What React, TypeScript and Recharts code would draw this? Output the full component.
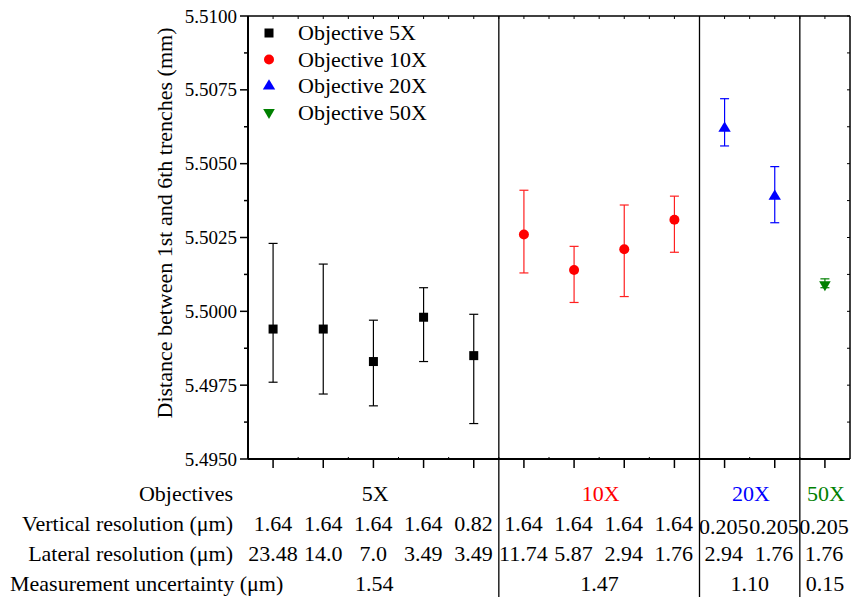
import React from 'react';
import { ScatterChart, Scatter, XAxis, YAxis, ErrorBar, ReferenceLine } from 'recharts';

const FONT = '"Liberation Serif", "Times New Roman", serif';

// measured distances (mm) with upper / lower error limits, per objective
const x5 = [1, 2, 3, 4, 5];
const y5 = [5.4994, 5.4994, 5.4983, 5.4998, 5.4985];
const hi5 = [5.5023, 5.5016, 5.4997, 5.5008, 5.4999];
const lo5 = [5.4976, 5.4972, 5.4968, 5.4983, 5.4962];

const x10 = [6, 7, 8, 9];
const y10 = [5.5026, 5.5014, 5.5021, 5.5031];
const hi10 = [5.5041, 5.5022, 5.5036, 5.5039];
const lo10 = [5.5013, 5.5003, 5.5005, 5.502];

const x20 = [10, 11];
const y20 = [5.5062, 5.5039];
const hi20 = [5.5072, 5.5049];
const lo20 = [5.5056, 5.503];

const x50 = [12];
const y50 = [5.5009];
const hi50 = [5.5011];
const lo50 = [5.5008];

// table under the plot
const objectiveNames = ['5X', '10X', '20X', '50X'];
const objectiveCenters = [3, 7.5, 10.5, 12];
const objectiveColors = ['#000000', '#ff0000', '#0000ff', '#008000'];
const vertRes = ['1.64', '1.64', '1.64', '1.64', '0.82', '1.64', '1.64', '1.64', '1.64', '0.205', '0.205', '0.205'];
const latRes = ['23.48', '14.0', '7.0', '3.49', '3.49', '11.74', '5.87', '2.94', '1.76', '2.94', '1.76', '1.76'];
const uncertainty = ['1.54', '1.47', '1.10', '0.15'];
const groupDividers = [5.5, 9.5, 11.5];

const yTicks = [5.495, 5.49625, 5.4975, 5.49875, 5.5, 5.50125, 5.5025, 5.50375, 5.505, 5.50625, 5.5075, 5.50875, 5.51];
const xHalfTicks = [1, 1.5, 2, 2.5, 3, 3.5, 4, 4.5, 5, 5.5, 6, 6.5, 7, 7.5, 8, 8.5, 9, 9.5, 10, 10.5, 11, 11.5, 12];

const toRows = (xs: number[], ys: number[], los: number[], his: number[]) =>
  xs.map((x, i) => ({ x, y: ys[i], err: [ys[i] - los[i], his[i] - ys[i]] }));

const W = 852;
const H = 597;
const PLOT_LEFT = 248;
const PLOT_RIGHT = 849;
const PLOT_TOP = 17;
const PLOT_BOTTOM = 459;
const colX = (v: number) => PLOT_LEFT + ((v - 0.5) / 12) * (PLOT_RIGHT - PLOT_LEFT);

const Square = (p: any) => <rect x={p.cx - 4.5} y={p.cy - 4.5} width={9} height={9} fill="#000" />;
const Dot = (p: any) => <circle cx={p.cx} cy={p.cy} r={5} fill="#ff0000" />;
const TriUp = (p: any) => (
  <polygon points={`${p.cx},${p.cy - 6.7} ${p.cx + 6.2},${p.cy + 3.6} ${p.cx - 6.2},${p.cy + 3.6}`} fill="#0000ff" />
);
const TriDown = (p: any) => (
  <polygon points={`${p.cx},${p.cy + 6.5} ${p.cx + 5.8},${p.cy - 3.5} ${p.cx - 5.8},${p.cy - 3.5}`} fill="#008000" />
);

const Empty = () => <g />;

const LeftTick = (props: any) => {
  const { x, y, payload } = props;
  const major = Math.round(payload.value * 10000) % 25 === 0;
  return (
    <g>
      <line x1={PLOT_LEFT} x2={PLOT_LEFT - (major ? 8 : 4)} y1={y} y2={y} stroke="#000" strokeWidth={1.5} />
      {major && (
        <text x={x} y={y} dy="0.35em" textAnchor="end" fontSize={19} fontFamily={FONT} fill="#000">
          {payload.value.toFixed(4)}
        </text>
      )}
    </g>
  );
};

const BottomTick = (props: any) => {
  const { x, payload } = props;
  const major = Number.isInteger(payload.value);
  return major ? (
    <line x1={x} x2={x} y1={PLOT_BOTTOM} y2={PLOT_BOTTOM + 9} stroke="#000" strokeWidth={1.5} />
  ) : (
    <line x1={x} x2={x} y1={PLOT_BOTTOM} y2={PLOT_BOTTOM - 2} stroke="#000" strokeWidth={1} />
  );
};

const legendItems = [
  { name: 'Objective 5X', Shape: Square },
  { name: 'Objective 10X', Shape: Dot },
  { name: 'Objective 20X', Shape: TriUp },
  { name: 'Objective 50X', Shape: TriDown },
];

const textStyle = { fontFamily: FONT, fontSize: 22, fill: '#000' };

export default function App() {
  return (
    <div style={{ position: 'absolute', left: 0, top: 0, background: '#fff', fontFamily: FONT }}>
      <ScatterChart
        width={W}
        height={H}
        margin={{ top: PLOT_TOP - 1, right: W - PLOT_RIGHT - 1, bottom: H - PLOT_BOTTOM - 1, left: PLOT_LEFT - 60 }}
      >
        <XAxis
          dataKey="x"
          type="number"
          domain={[0.5, 12.5]}
          ticks={xHalfTicks}
          interval={0}
          height={1}
          tickSize={0}
          tick={<BottomTick />}
          tickLine={false}
          axisLine={{ stroke: '#000', strokeWidth: 2 }}
          allowDataOverflow
        />
        <XAxis
          xAxisId="top"
          dataKey="x"
          orientation="top"
          type="number"
          domain={[0.5, 12.5]}
          ticks={xHalfTicks}
          interval={0}
          height={1}
          mirror
          tickSize={3}
          tick={<Empty />}
          tickLine={{ stroke: '#000' }}
          axisLine={{ stroke: '#000', strokeWidth: 1.5 }}
          allowDataOverflow
        />
        <YAxis
          dataKey="y"
          type="number"
          domain={[5.495, 5.51]}
          ticks={yTicks}
          interval={0}
          width={60}
          tickSize={8}
          tickMargin={3}
          tick={<LeftTick />}
          tickLine={false}
          axisLine={{ stroke: '#000', strokeWidth: 2 }}
          allowDataOverflow
        />
        <YAxis
          yAxisId="right"
          dataKey="y"
          orientation="right"
          type="number"
          domain={[5.495, 5.51]}
          ticks={yTicks}
          interval={0}
          width={1}
          mirror
          tickSize={3}
          tick={<Empty />}
          tickLine={{ stroke: '#000' }}
          axisLine={{ stroke: '#000', strokeWidth: 1.5 }}
          allowDataOverflow
        />

        {groupDividers.map((d) => (
          <ReferenceLine
            key={d}
            segment={[{ x: d, y: 5.51 }, { x: d, y: 5.489 }]}
            ifOverflow="visible"
            stroke="#000"
            strokeWidth={1.3}
          />
        ))}

        {/* frame axes (top / right) carry no marks of their own */}
        <Scatter
          xAxisId="top"
          yAxisId="right"
          data={toRows(x50, y50, lo50, hi50)}
          shape={Empty}
          legendType="none"
          isAnimationActive={false}
        />

        <Scatter data={toRows(x5, y5, lo5, hi5)} shape={Square} isAnimationActive={false}>
          <ErrorBar dataKey="err" direction="y" width={4.5} stroke="#000" strokeWidth={1.2} />
        </Scatter>
        <Scatter data={toRows(x10, y10, lo10, hi10)} shape={Dot} isAnimationActive={false}>
          <ErrorBar dataKey="err" direction="y" width={4.5} stroke="#ff2020" strokeWidth={1.2} />
        </Scatter>
        <Scatter data={toRows(x20, y20, lo20, hi20)} shape={TriUp} isAnimationActive={false}>
          <ErrorBar dataKey="err" direction="y" width={4.5} stroke="#0000ff" strokeWidth={1.2} />
        </Scatter>
        <Scatter data={toRows(x50, y50, lo50, hi50)} shape={TriDown} isAnimationActive={false}>
          <ErrorBar dataKey="err" direction="y" width={4.5} stroke="#008000" strokeWidth={1.2} />
        </Scatter>

        {/* y axis title */}
        <text x={172} y={223} transform="rotate(-90, 172, 223)" textAnchor="middle" style={textStyle}>
          Distance between 1st and 6th trenches (mm)
        </text>

        {/* legend */}
        {legendItems.map((item, i) => (
          <g key={item.name}>
            <item.Shape cx={269} cy={33 + i * 26.5} />
            <text x={298} y={40 + i * 26.5} style={textStyle}>
              {item.name}
            </text>
          </g>
        ))}

        {/* table */}
        <text x={233} y={501} textAnchor="end" style={textStyle}>Objectives</text>
        <text x={233} y={531} textAnchor="end" style={textStyle}>Vertical resolution (μm)</text>
        <text x={233} y={561} textAnchor="end" style={textStyle}>Lateral resolution (μm)</text>
        <text x={10} y={591} style={textStyle}>Measurement uncertainty (μm)</text>
        {objectiveNames.map((n, i) => (
          <text key={n} x={colX(objectiveCenters[i]) + 2} y={501} textAnchor="middle" style={{ ...textStyle, fill: objectiveColors[i] }}>
            {n}
          </text>
        ))}
        {vertRes.map((v, i) => (
          <text key={`v${i}`} x={colX(i + 1)} y={i >= 9 ? 534 : 531} textAnchor="middle" style={textStyle}>
            {v}
          </text>
        ))}
        {latRes.map((v, i) => (
          <text key={`l${i}`} x={colX(i + 1)} y={561} textAnchor="middle" style={textStyle}>
            {v}
          </text>
        ))}
        {uncertainty.map((v, i) => (
          <text key={`u${i}`} x={colX(objectiveCenters[i]) + 1} y={591} textAnchor="middle" style={textStyle}>
            {v}
          </text>
        ))}
      </ScatterChart>
    </div>
  );
}
